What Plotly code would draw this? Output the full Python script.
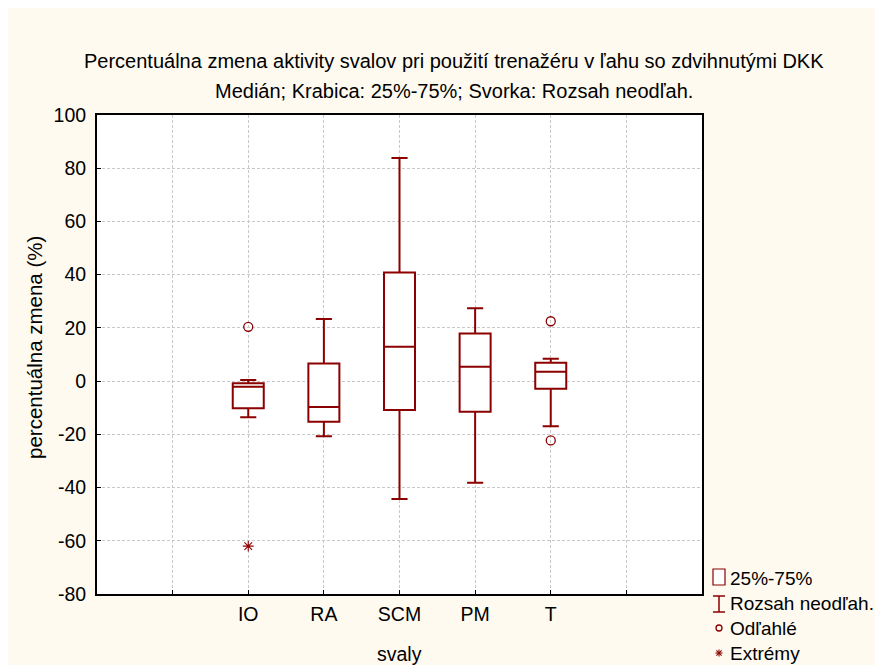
import plotly.graph_objects as go

# ---- data ----
categories = ["IO", "RA", "SCM", "PM", "T"]
q1 = [-10.2, -15.3, -10.9, -11.5, -2.9]
median = [-2.1, -9.7, 12.9, 5.4, 3.5]
q3 = [-0.8, 6.6, 40.8, 17.9, 6.9]
lower_fence = [-13.6, -20.7, -44.3, -38.2, -17.0]
upper_fence = [0.4, 23.3, 83.8, 27.4, 8.4]
outlier_cat = ["IO", "T", "T"]
outlier_val = [20.4, 22.5, -22.3]
extreme_cat = ["IO"]
extreme_val = [-62.0]
y_ticks = [-80, -60, -40, -20, 0, 20, 40, 60, 80, 100]
y_tick_text = ["-80", "-60", "-40", "-20", "0", "20", "40", "60", "80", "100"]

title_line1 = "Percentuálna zmena aktivity svalov pri použití trenažéru v ľahu so zdvihnutými DKK"
title_line2 = "Medián; Krabica: 25%-75%; Svorka: Rozsah neodľah."
x_title = "svaly"
y_title = "percentuálna zmena (%)"
legend_labels = ["25%-75%", "Rozsah neodľah.", "Odľahlé", "Extrémy"]

RED = "#8B0000"
CREAM = "#FEFAF0"
FONT = "Liberation Sans, Arial, sans-serif"
FS = 19.5

W, H = 883, 665
OFF = 8  # page body margin
L, R, T, B = 97 - OFF, 702 - OFF, 115 - OFF, 594 - OFF  # plot area in figure pixels

pos = {c: i + 2 for i, c in enumerate(categories)}


def px(x):  # page pixel -> paper x
    return (x - OFF - L) / (R - L)


def py(y):  # page pixel -> paper y
    return (B - (y - OFF)) / (B - T)


fig = go.Figure()

for i, c in enumerate(categories):
    fig.add_trace(go.Box(
        x=[pos[c]], q1=[q1[i]], median=[median[i]], q3=[q3[i]],
        lowerfence=[lower_fence[i]], upperfence=[upper_fence[i]],
        boxpoints=False, width=0.41, whiskerwidth=0.52,
        fillcolor="white", line=dict(color=RED, width=2),
        showlegend=False, hoverinfo="skip",
    ))

fig.add_trace(go.Scatter(
    x=[pos[c] for c in outlier_cat], y=outlier_val, mode="markers",
    marker=dict(symbol="circle-open", size=9, color=RED, line=dict(width=1.3)),
    showlegend=False,
))
fig.add_trace(go.Scatter(
    x=[pos[c] for c in extreme_cat], y=extreme_val, mode="markers",
    marker=dict(symbol="asterisk-open", size=9, color=RED, line=dict(width=1.1, color=RED)),
    showlegend=False,
))

shapes = []
# manual legend
shapes.append(dict(type="rect", xref="paper", yref="paper", x0=px(713), x1=px(725),
                   y0=py(585), y1=py(569), line=dict(color=RED, width=1.2), fillcolor="white"))
shapes.append(dict(type="line", xref="paper", yref="paper", x0=px(719), x1=px(719),
                   y0=py(612), y1=py(596), line=dict(color=RED, width=1.5)))
for yy in (596, 612):
    shapes.append(dict(type="line", xref="paper", yref="paper", x0=px(713), x1=px(725),
                       y0=py(yy), y1=py(yy), line=dict(color=RED, width=1.5)))
shapes.append(dict(type="circle", xref="paper", yref="paper", x0=px(716), x1=px(722),
                   y0=py(631), y1=py(625), line=dict(color=RED, width=1.3)))
cx, cy, r = 719, 653, 3.5
for dx, dy in ((r, 0), (0, r), (r * 0.75, r * 0.75), (r * 0.75, -r * 0.75)):
    shapes.append(dict(type="line", xref="paper", yref="paper", x0=px(cx - dx), x1=px(cx + dx),
                       y0=py(cy - dy), y1=py(cy + dy), line=dict(color=RED, width=1.1)))

annotations = [
    dict(text=title_line1, x=px(454), y=py(61), xref="paper", yref="paper",
         showarrow=False, xanchor="center", yanchor="middle", font=dict(size=20, color="black", family=FONT)),
    dict(text=title_line2, x=px(454), y=py(91), xref="paper", yref="paper",
         showarrow=False, xanchor="center", yanchor="middle", font=dict(size=20, color="black", family=FONT)),
    dict(text=x_title, x=px(399), y=py(654), xref="paper", yref="paper",
         showarrow=False, xanchor="center", yanchor="middle", font=dict(size=FS, color="black", family=FONT)),
    dict(text=y_title, x=px(34), y=py(348), xref="paper", yref="paper", textangle=-90,
         showarrow=False, xanchor="center", yanchor="middle", font=dict(size=20.5, color="black", family=FONT)),
]
for lbl, yy in zip(legend_labels, (578, 603, 628, 653)):
    annotations.append(dict(text=lbl, x=px(728), y=py(yy), xref="paper", yref="paper",
                            showarrow=False, xanchor="left", yanchor="middle",
                            font=dict(size=19, color="black", family=FONT)))

fig.update_layout(
    width=W, height=H,
    margin=dict(l=L, r=W - R, t=T, b=H - B, pad=0),
    paper_bgcolor=CREAM, plot_bgcolor="white",
    font=dict(family=FONT, size=FS, color="black"),
    shapes=shapes, annotations=annotations,
    showlegend=False,
)
fig.update_xaxes(
    range=[0, 8], tickmode="array", tickvals=[1, 2, 3, 4, 5, 6, 7],
    ticktext=[""] + categories + [""],
    showgrid=True, gridcolor="#C8C8C8", griddash="3px,2px", gridwidth=1,
    showline=True, linecolor="black", linewidth=2, mirror=True,
    ticks="inside", ticklen=4, tickcolor="black", zeroline=False,
    tickfont=dict(size=FS), ticklabelstandoff=2,
)
fig.update_yaxes(
    range=[-80, 100], tickmode="array", tickvals=y_ticks, ticktext=y_tick_text,
    showgrid=True, gridcolor="#C8C8C8", griddash="3px,2px", gridwidth=1,
    showline=True, linecolor="black", linewidth=2, mirror=True,
    ticks="inside", ticklen=4, tickcolor="black", zeroline=False,
    tickfont=dict(size=FS), ticklabelstandoff=5,
)

fig.write_html("out.html")
